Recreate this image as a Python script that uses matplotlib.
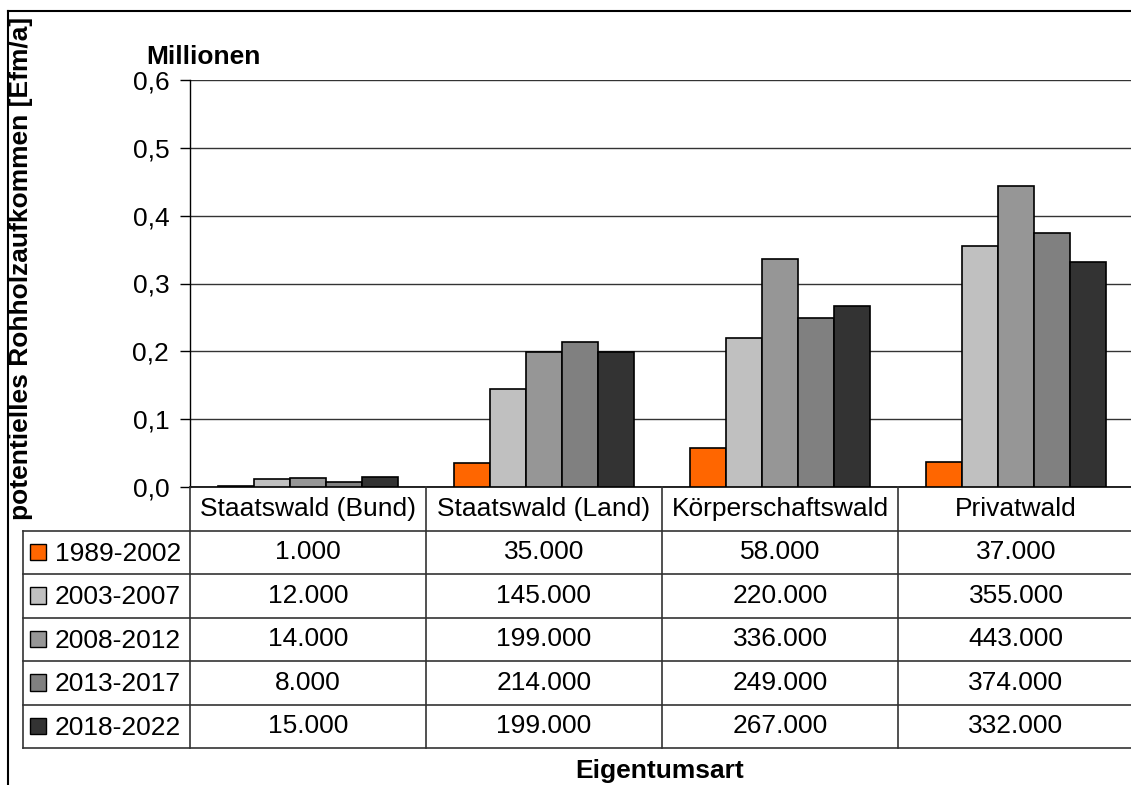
import matplotlib
matplotlib.use("Agg")
import matplotlib.pyplot as plt
from matplotlib.lines import Line2D
from matplotlib.patches import Rectangle
import numpy as np

plt.rcParams['font.family'] = ['Liberation Sans', 'DejaVu Sans']

categories = ["Staatswald (Bund)", "Staatswald (Land)", "Körperschaftswald", "Privatwald"]
periods = ["1989-2002", "2003-2007", "2008-2012", "2013-2017", "2018-2022"]
v1989 = [1000, 35000, 58000, 37000]
v2003 = [12000, 145000, 220000, 355000]
v2008 = [14000, 199000, 336000, 443000]
v2013 = [8000, 214000, 249000, 374000]
v2018 = [15000, 199000, 267000, 332000]
series = [v1989, v2003, v2008, v2013, v2018]
colors = ["#FF6600", "#C0C0C0", "#969696", "#808080", "#333333"]

W, H = 1131, 785
FS = 19


def fx(px):
    return px / W


def fy(py):
    return 1 - py / H


def fmt_de(v):
    return f"{v:,}".replace(",", ".")


fig = plt.figure(figsize=(W / 100, H / 100), dpi=100)

# pixel layout
x_left, x_right = 190, 1134
y_top, y_zero = 80, 487
y_tab_bot = 748
x_tab_left = 23
cat_w = (x_right - x_left) / 4.0

ax = fig.add_axes([fx(x_left), fy(y_zero), fx(x_right - x_left), (y_zero - y_top) / H])
x = np.arange(len(categories))
bw = 0.1525
for i, (vals, c) in enumerate(zip(series, colors)):
    ax.bar(x + (i - 2) * bw, np.array(vals) / 1e6, bw, color=c, edgecolor="black",
           linewidth=1.2, zorder=3)

ax.set_xlim(-0.5, 3.5)
ax.set_ylim(0, 0.6)
ax.set_yticks(np.arange(0, 0.61, 0.1))
ax.yaxis.set_major_formatter(plt.FuncFormatter(lambda v, p: f"{v:.1f}".replace(".", ",")))
ax.tick_params(axis="y", labelsize=FS, length=7, width=1, direction="out", pad=8)
ax.set_xticks([])
ax.grid(axis="y", color="#333333", linewidth=1)
ax.set_axisbelow(True)
for s in ["top", "right"]:
    ax.spines[s].set_visible(False)
ax.spines["left"].set_linewidth(1)
ax.spines["bottom"].set_linewidth(1.2)

# data table below the plot
tab = fig.add_axes([fx(x_tab_left), fy(y_tab_bot), fx(x_right - x_tab_left), (y_tab_bot - y_zero) / H])
lead = (x_left - x_tab_left) / cat_w
tab.set_xlim(-0.5 - lead, 3.5)
tab.set_ylim(6, 0)
tab.axis("off")
lc = "#333333"
tab.plot([-0.5, -0.5], [0, 6], color=lc, lw=1.2, clip_on=False)
tab.plot([-0.5 - lead, -0.5 - lead], [1, 6], color=lc, lw=1.2, clip_on=False)
for k in range(1, 4):
    tab.plot([k - 0.5, k - 0.5], [0, 6], color=lc, lw=1.2, clip_on=False)
for r in range(1, 7):
    tab.plot([-0.5 - lead, 3.5], [r, r], color=lc, lw=1.2, clip_on=False)
for j, cat in enumerate(categories):
    tab.text(j, 0.5, cat, ha="center", va="center", fontsize=FS)
for i, (p, vals, c) in enumerate(zip(periods, series, colors)):
    row = i + 1.5
    sw = 16 / cat_w
    tab.add_patch(Rectangle((-0.5 - lead + 7 / cat_w, row - 0.19), sw, 0.37,
                            facecolor=c, edgecolor="black", lw=1, clip_on=False))
    tab.text(-0.5 - lead + 32 / cat_w, row + 0.03, p, ha="left", va="center", fontsize=FS)
    for j, v in enumerate(vals):
        tab.text(j, row, fmt_de(v), ha="center", va="center", fontsize=FS)

# titles
fig.text(fx(203), fy(57), "Millionen", ha="center", va="center", fontsize=FS, fontweight="bold")
fig.text(fx(660), fy(771), "Eigentumsart", ha="center", va="center", fontsize=FS, fontweight="bold")
fig.text(fx(21), fy(268), "potentielles Rohholzaufkommen [Efm/a]", rotation=90,
         ha="center", va="center", fontsize=FS, fontweight="bold")

# outer frame (left and top)
fig.add_artist(Line2D([fx(8), fx(8)], [fy(11), 0], color="black", lw=1.5))
fig.add_artist(Line2D([fx(8), 1], [fy(11), fy(11)], color="black", lw=1.5))

fig.savefig("out.png", dpi=100)
